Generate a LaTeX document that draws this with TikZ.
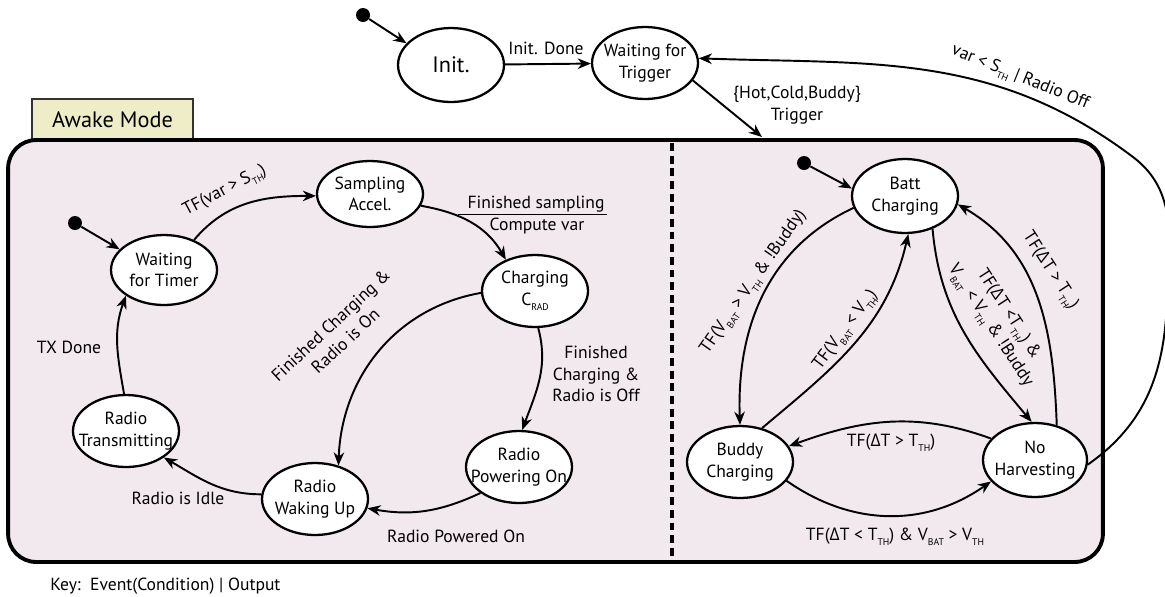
\documentclass[tikz,border=0pt]{standalone}
\usepackage{fontspec}
\setmainfont{PT Sans}
\newfontfamily\deltafont{Open Sans}
\usepackage{tikz}
\usetikzlibrary{shapes.geometric,arrows.meta}
\definecolor{awakefill}{RGB}{242,233,239}
\definecolor{tabfill}{RGB}{238,237,200}
\newcommand{\lowsub}[1]{\raisebox{-0.6ex}{\fontsize{5.5}{6}\selectfont #1}}
\newcommand{\dT}{{\deltafont Δ}T}

\begin{document}
\begin{tikzpicture}[x=0.02cm, y=0.02cm,
  state/.style={ellipse, draw, line width=1.3pt, fill=white, inner xsep=-12pt,
                inner ysep=0pt, minimum width=2.12cm, minimum height=1.44cm,
                align=center, font=\fontsize{10}{12.3}\selectfont},
  startdot/.style={circle, fill, inner sep=0pt, minimum size=0.28cm},
  lbl/.style={align=center, inner sep=0pt, font=\fontsize{10}{12.3}\selectfont},
  arr/.style={-{Stealth[length=7.5pt,width=6pt,inset=2.4pt]}, line width=1.1pt}
]
  \useasboundingbox (0,0) rectangle (1165,-596);

  % Top tier
  \node[startdot] (d0) at (363,-15) {};
  \node[state, minimum height=1.48cm, font=\fontsize{12.7}{14}\selectfont] (init) at (451,-65) {Init.};
  \node[state] (wtrig) at (645,-63) {Waiting for\\Trigger};
  \coordinate (trig) at (762,-137);

  % Awake mode box
  \node[draw=black!80, line width=0.8pt, fill=tabfill, minimum width=3.22cm,
        minimum height=0.82cm, font=\fontsize{12.7}{14}\selectfont] (tab) at (112.5,-119.5) {Awake Mode};
  \node[draw, line width=2.2pt, fill=awakefill, rounded corners=16pt,
        minimum width=21.9cm, minimum height=8.44cm] (awake) at (555.5,-351) {};
  \draw[line width=2pt, dash pattern=on 4.5pt off 2.7pt] (672,-143) -- (672,-559);

  % Left: radio states
  \node[startdot] (d1) at (75,-223) {};
  \node[state, minimum height=1.40cm] (wtim) at (164,-270) {Waiting\\for Timer};
  \node[state, minimum height=1.32cm] (samp) at (370,-194) {Sampling\\Accel.};
  \node[state] (chg)   at (535,-291) {Charging\\C\lowsub{RAD}};
  \node[state] (rpow)  at (519,-467) {Radio\\Powering On};
  \node[state] (rwake) at (315,-499) {Radio\\Waking Up};
  \node[state] (rtx)   at (126,-431) {Radio\\Transmitting};

  % Right: harvesting states
  \node[startdot] (d2) at (804,-163) {};
  \node[state, minimum height=1.48cm] (batt) at (905,-196) {Batt\\Charging};
  \node[state] (buddy) at (740,-462) {Buddy\\Charging};
  \node[state, minimum height=1.48cm, minimum width=2.08cm] (noharv) at (1035,-460) {No\\Harvesting};

  % Return path
  \coordinate (rt1) at (1167,-300);
  \coordinate (rt2) at (1133,-157);

  % Edges (top)
  \draw[arr] (d0) -- (init.154);
  \draw[arr] (init) -- (wtrig);
  \draw[arr] (wtrig.-20) -- (trig);
  \draw[arr] (noharv.-5) to[out=35,in=-92] (rt1) to[out=88,in=-37] (rt2) to[out=143,in=-2] (wtrig.5);

  % Edges (left)
  \draw[arr] (d1) -- (wtim.155);
  \draw[arr] (wtim.45) to[out=50,in=180] (samp.182);
  \draw[arr] (samp.-13) to[out=-10,in=120] (chg.133);
  \draw[arr] (chg.-85) to[out=-75,in=70] (rpow.85);
  \draw[arr] (chg.182) to[out=190,in=88] (rwake.55);
  \draw[arr] (rpow.214) to[out=205,in=-10] (rwake.-10);
  \draw[arr] (rwake.175) to[out=180,in=-30] (rtx.-35);
  \draw[arr] (rtx.93) to[out=100,in=250] (wtim.214);

  % Edges (right)
  \draw[arr] (d2) -- (batt.172);
  \draw[arr] (batt.193) to[out=205,in=92] (buddy.90);
  \draw[arr] (buddy.57) to[out=40,in=257] (batt.-85);
  \draw[arr] (batt.-50) to[out=-85,in=130] (noharv.95);
  \draw[arr] (noharv.58) to[out=92,in=-30] (batt.-9);
  \draw[arr] (noharv.154) to[out=160,in=20] (buddy.18);
  \draw[arr] (buddy.-22) to[out=-35,in=215] (noharv.206);

  % Labels
  \node[lbl] (lb1) at (546,-48) {Init. Done};
  \node[lbl] (lb2) at (797,-105) {\{Hot,Cold,Buddy\}\\Trigger};
  \node[lbl, rotate=-22] (lb3) at (1020,-78) {var < S\lowsub{TH} | Radio Off};
  \node[lbl, rotate=28] (lb4) at (225,-191) {TF(var > S\lowsub{TH})};
  \node[lbl] (lb5a) at (536,-204) {Finished sampling};
  \node[lbl] (lb5b) at (537,-226) {Compute var};
  \draw[line width=0.7pt] ([xshift=-5pt,yshift=-1pt]lb5a.south west) -- ([xshift=1pt,yshift=-1pt]lb5a.south east);
  \node[lbl] (lb6) at (596,-374) {Finished\\Charging \&\\Radio is Off};
  \node[lbl, rotate=43] (lb7) at (338,-333) {Finished Charging \&\\Radio is On};
  \node[lbl] (lb8) at (456,-536) {Radio Powered On};
  \node[lbl] (lb9) at (178,-498) {Radio is Idle};
  \node[lbl] (lb10) at (69,-347) {TX Done};
  \node[lbl, rotate=55] (lb11) at (754,-282) {TF(V\lowsub{BAT} > V\lowsub{TH} \& !Buddy)};
  \node[lbl, rotate=53] (lb12) at (846,-330) {TF(V\lowsub{BAT} < V\lowsub{TH})};
  \node[lbl, rotate=-57] (lb13) at (999,-320) {TF(\dT{} <T\lowsub{TH}) \&\\V\lowsub{BAT} < V\lowsub{TH} \& !Buddy};
  \node[lbl, rotate=-57] (lb14) at (1050,-271) {TF(\dT{} > T\lowsub{TH})};
  \node[lbl] (lb15) at (891,-443) {TF(\dT{} > T\lowsub{TH})};
  \node[lbl] (lb16) at (895,-537) {TF(\dT{} < T\lowsub{TH}) \& V\lowsub{BAT} > V\lowsub{TH}};
  \node[lbl, anchor=west] (key) at (50,-586) {Key:\ \ Event(Condition) | Output};
\end{tikzpicture}
\end{document}
